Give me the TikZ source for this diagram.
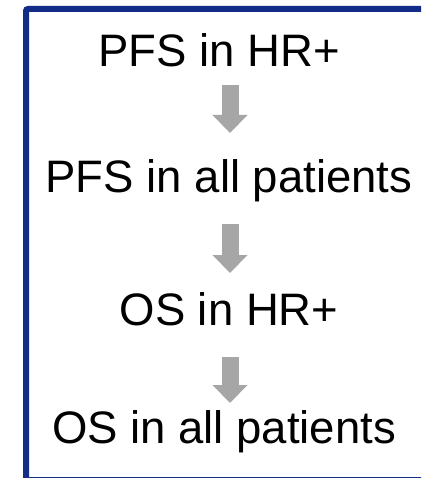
\documentclass[tikz,border=0pt]{standalone}
\usepackage{fontspec}
\setmainfont{Liberation Sans}
\usetikzlibrary{arrows.meta}
\definecolor{frameblue}{RGB}{18,44,136}
\definecolor{arrowgray}{RGB}{166,166,166}
\begin{document}
\begin{tikzpicture}[x=1pt,y=-1pt,
  label/.style={font=\fontsize{45.5}{54}\selectfont, inner sep=0pt, anchor=base},
  flow/.style={draw=arrowgray, line width=17pt, -{Triangle[width=34pt,length=18pt]}, arrowgray}
]
\useasboundingbox (0,0) rectangle (421,478);
\clip (0,0) rectangle (421,478);
\fill[white] (0,0) rectangle (421,478);
\draw[frameblue, line width=6pt, rounded corners=2pt] (26,480) rectangle (460,9);
\node[label] (n1) at (219,67) {PFS in HR+};
\node[label] (n2) at (229,193) {PFS in all patients};
\node[label] (n3) at (229,325) {OS in HR+};
\node[label] (n4) at (224,443) {OS in all patients};
\coordinate (a1s) at (230,85);  \coordinate (a1e) at (230,133);
\coordinate (a2s) at (230,224); \coordinate (a2e) at (230,273);
\coordinate (a3s) at (230,357); \coordinate (a3e) at (230,403);
\draw[flow] (a1s) -- (a1e);
\draw[flow] (a2s) -- (a2e);
\draw[flow] (a3s) -- (a3e);
\end{tikzpicture}
\end{document}
